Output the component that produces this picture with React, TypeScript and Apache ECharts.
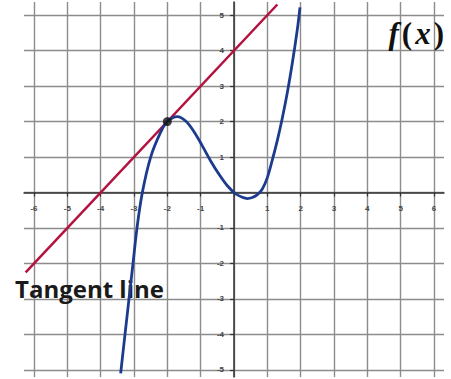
import React, { useEffect, useRef } from "react";
import * as echarts from "echarts";

const xTicks = [-6, -5, -4, -3, -2, -1, 0, 1, 2, 3, 4, 5, 6];
const xLabels = [-6, -5, -4, -3, -2, -1, 1, 2, 3, 4, 5, 6];
const yTicks = [-5, -4, -3, -2, -1, 0, 1, 2, 3, 4, 5];
const yLabels = [-5, -4, -3, -2, -1, 1, 2, 3, 4, 5];

const curveX = [-3.4, -3.27, -3.03, -2.91, -2.75, -2.5, -2.2, -2.0, -1.7, -1.45, -1.2, -0.95, -0.7, -0.45, -0.2, 0.05, 0.25, 0.4, 0.55, 0.7, 0.85, 1.0, 1.15, 1.3, 1.45, 1.6, 1.75, 1.9, 1.98];
const curveY = [-5.1, -4.0, -2.0, -1.0, 0.0, 1.0, 1.7, 2.0, 2.14, 2.015, 1.715, 1.315, 0.89, 0.515, 0.19, -0.035, -0.135, -0.17, -0.14, -0.06, 0.1, 0.42, 0.92, 1.47, 2.1, 2.82, 3.65, 4.6, 5.22];

const tangentX = [-6.25, 1.3];
const tangentY = [-2.25, 5.3];
const tangentPoint = [-2, 2];

const tangentLabel = "Tangent line";

const X_MIN = -6.3;
const X_MAX = 6.3;
const Y_MIN = -5.2;
const Y_MAX = 5.37;

export default function App() {
  const ref = useRef<HTMLDivElement>(null);
  useEffect(() => {
    document.body.style.margin = "0";
    const chart = echarts.init(ref.current!, null, { renderer: "svg" });
    const gridColor = "#8c8c8c";
    const axisColor = "#333";
    const W = 451;
    const H = 379;
    const gl = 24, gr = 7, gt = 2, gb = 2;
    const gw = W - gl - gr;
    const gh = H - gt - gb;
    const zeroY = gt + gh * (Y_MAX / (Y_MAX - Y_MIN));
    const zeroX = gl + gw * (-X_MIN / (X_MAX - X_MIN));
    const xOffset = -(H - gb - zeroY);
    const yOffset = -(zeroX - gl);
    chart.setOption({
      animation: false,
      backgroundColor: "#ffffff",
      grid: { left: gl, right: gr, top: gt, bottom: gb },
      xAxis: {
        type: "value",
        min: X_MIN,
        max: X_MAX,
        position: "bottom",
        offset: xOffset,
        axisLine: { onZero: false, lineStyle: { color: axisColor, width: 1.5 } },
        axisTick: { show: true, length: 4, customValues: xTicks, lineStyle: { color: axisColor, width: 1.2 } },
        axisLabel: {
          customValues: xLabels,
          fontSize: 8,
          fontWeight: "bold",
          color: "#444",
          margin: 12,
          fontFamily: "Liberation Sans",
        },
        splitLine: { show: true, lineStyle: { color: gridColor, width: 1.4 } },
      },
      yAxis: {
        type: "value",
        min: Y_MIN,
        max: Y_MAX,
        position: "left",
        offset: yOffset,
        axisLine: { onZero: false, lineStyle: { color: axisColor, width: 1.5 } },
        axisTick: { show: true, length: 4, customValues: yTicks, lineStyle: { color: axisColor, width: 1.2 } },
        axisLabel: {
          customValues: yLabels,
          fontSize: 8,
          fontWeight: "bold",
          color: "#444",
          margin: 10,
          fontFamily: "Liberation Sans",
        },
        splitLine: { show: true, lineStyle: { color: gridColor, width: 1.4 } },
      },
      graphic: [
        {
          type: "text",
          z: 1,
          x: 15,
          y: 288,
          style: {
            text: tangentLabel,
            font: "bold 24px 'Open Sans'",
            fill: "#1a1a1a",
            verticalAlign: "middle",
            align: "left",
          },
        },
        {
          type: "text",
          z: 1,
          x: 445,
          y: 33,
          style: {
            text: "{i|f}{p|(}{i|x}{p|)}",
            align: "right",
            verticalAlign: "middle",
            fill: "#111",
            rich: {
              i: { font: "italic bold 31px 'Liberation Serif'", fill: "#111", padding: [0, 2, 0, 2] },
              p: { font: "bold 31px 'Liberation Serif'", fill: "#111", padding: [0, 1, 0, 1] },
            },
          },
        },
      ],
      series: [
        {
          type: "line",
          data: tangentX.map((x, i) => [x, tangentY[i]]),
          symbol: "none",
          lineStyle: { color: "#b3123f", width: 2.5 },
          z: 3,
        },
        {
          type: "line",
          data: curveX.map((x, i) => [x, curveY[i]]),
          symbol: "none",
          smooth: 0.35,
          lineStyle: { color: "#1d3b8e", width: 2.8 },
          z: 4,
        },
        {
          type: "scatter",
          data: [tangentPoint],
          symbolSize: 9,
          itemStyle: { color: "#111" },
          z: 5,
        },
      ],
    });
    return () => chart.dispose();
  }, []);
  return <div ref={ref} style={{ width: 451, height: 379 }} />;
}
